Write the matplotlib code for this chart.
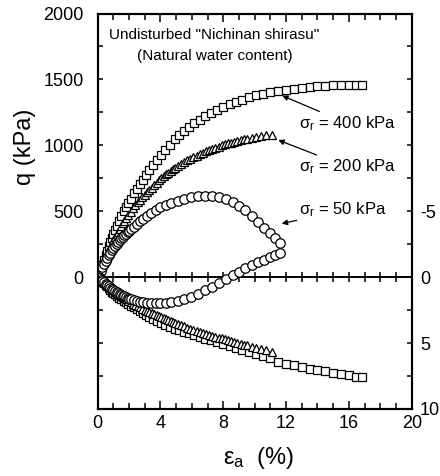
import matplotlib
matplotlib.use('Agg')
import matplotlib.pyplot as plt
from matplotlib.ticker import MultipleLocator, FixedLocator

plt.rcParams['axes.unicode_minus'] = False
REG = 'Liberation Sans'

# ---------------- data ----------------
# sigma_r = 400 kPa (squares)
strain_400 = [0, 0.05, 0.1, 0.15, 0.2, 0.3, 0.4, 0.5, 0.6, 0.7, 0.8, 0.9, 1.0, 1.1, 1.2,
              1.35, 1.5, 1.65, 1.8, 1.95, 2.1, 2.3, 2.5, 2.7, 2.9, 3.1, 3.3, 3.55, 3.8,
              4.05, 4.3, 4.6, 4.9, 5.2, 5.5, 5.8, 6.15, 6.5, 6.85, 7.2, 7.6, 8.0, 8.4,
              8.8, 9.2, 9.65, 10.1, 10.55, 11.0, 11.5, 12.0, 12.5, 13.0, 13.5, 14.0,
              14.5, 15.0, 15.5, 16.0, 16.45, 16.85]
q_400 = [0, 15, 30, 45, 60, 95, 130, 165, 200, 235, 265, 295, 325, 355, 385,
         425, 465, 500, 535, 565, 595, 635, 670, 705, 740, 775, 810, 850, 890,
         930, 965, 1005, 1045, 1080, 1110, 1140, 1170, 1195, 1220, 1243, 1265, 1288, 1310,
         1330, 1347, 1364, 1380, 1392, 1403, 1413, 1422, 1430, 1437, 1443, 1448,
         1452, 1455, 1457, 1458, 1458, 1457]
v_400 = [0, 0.05, 0.1, 0.15, 0.2, 0.35, 0.45, 0.6, 0.7, 0.85, 1.0, 1.1, 1.2, 1.3, 1.4,
         1.55, 1.65, 1.8, 1.9, 2.0, 2.15, 2.3, 2.45, 2.6, 2.75, 2.9, 3.05, 3.2, 3.35,
         3.5, 3.6, 3.75, 3.9, 4.0, 4.15, 4.25, 4.4, 4.55, 4.7, 4.8, 4.95, 5.1, 5.2,
         5.35, 5.5, 5.65, 5.85, 6.0, 6.15, 6.4, 6.55, 6.7, 6.85, 6.95, 7.05,
         7.15, 7.25, 7.35, 7.45, 7.55, 7.6]

# sigma_r = 200 kPa (triangles)
strain_200 = [0, 0.05, 0.1, 0.15, 0.2, 0.3, 0.4, 0.5, 0.6, 0.7, 0.8, 0.9, 1.0, 1.1, 1.2,
              1.3, 1.4, 1.5, 1.6, 1.7, 1.8, 1.95, 2.1, 2.25, 2.4, 2.55, 2.7, 2.85, 3.0,
              3.15, 3.3, 3.45, 3.6, 3.75, 3.9, 4.05, 4.2, 4.35, 4.5, 4.65, 4.8, 4.95,
              5.1, 5.3, 5.5, 5.7, 5.9, 6.1, 6.3, 6.5, 6.7, 6.9, 7.1, 7.3, 7.5, 7.7,
              7.9, 8.1, 8.3, 8.5, 8.7, 8.9, 9.1, 9.3, 9.5, 9.8, 10.1, 10.4, 10.75, 11.1]
q_200 = [0, 15, 30, 45, 60, 90, 120, 150, 180, 205, 230, 255, 280, 302, 325,
         346, 367, 388, 408, 427, 446, 473, 498, 522, 545, 567, 588, 608, 627,
         645, 663, 680, 697, 713, 735, 750, 765, 779, 792, 805, 818, 830,
         842, 857, 871, 885, 898, 910, 922, 933, 944, 954, 964, 973, 982, 991,
         999, 1007, 1014, 1021, 1028, 1034, 1040, 1046, 1051, 1058, 1064, 1070, 1075, 1080]
v_200 = [0, 0.05, 0.1, 0.15, 0.2, 0.3, 0.4, 0.5, 0.6, 0.7, 0.8, 0.9, 1.0, 1.1, 1.2,
         1.28, 1.36, 1.44, 1.52, 1.6, 1.68, 1.8, 1.9, 2.0, 2.1, 2.2, 2.3, 2.4, 2.5,
         2.58, 2.66, 2.74, 2.82, 2.9, 2.98, 3.06, 3.13, 3.2, 3.27, 3.34, 3.41, 3.48,
         3.55, 3.64, 3.73, 3.82, 3.9, 3.98, 4.06, 4.14, 4.22, 4.3, 4.37, 4.44, 4.51, 4.58,
         4.65, 4.72, 4.79, 4.86, 4.93, 5.0, 5.06, 5.12, 5.18, 5.27, 5.36, 5.45, 5.55, 5.65]

# sigma_r = 50 kPa (circles)
strain_50 = [0, 0.05, 0.1, 0.2, 0.3, 0.4, 0.5, 0.6, 0.7, 0.8, 0.9, 1.0, 1.1, 1.2, 1.3,
             1.4, 1.5, 1.6, 1.7, 1.8, 1.9, 2.0, 2.15, 2.3, 2.5, 2.7, 2.9, 3.15, 3.4,
             3.7, 4.0, 4.35, 4.7, 5.1, 5.5, 5.95, 6.4, 6.85, 7.3, 7.75, 8.2, 8.6, 9.0,
             9.4, 9.8, 10.2, 10.6, 10.95, 11.3, 11.6]
q_50 = [0, 12, 25, 50, 75, 100, 125, 145, 165, 185, 205, 222, 238, 254, 268,
        282, 295, 307, 319, 330, 341, 352, 368, 384, 405, 425, 443, 465, 488,
        510, 530, 548, 565, 580, 595, 607, 615, 618, 616, 608, 592, 570, 542,
        507, 467, 422, 375, 335, 298, 262]
v_50 = [0, 0.05, 0.1, 0.2, 0.3, 0.4, 0.5, 0.6, 0.7, 0.8, 0.88, 0.96, 1.04, 1.12, 1.2,
        1.27, 1.34, 1.4, 1.46, 1.52, 1.57, 1.62, 1.68, 1.74, 1.8, 1.85, 1.89, 1.93, 1.96,
        1.97, 1.97, 1.95, 1.9, 1.8, 1.68, 1.5, 1.25, 1.0, 0.75, 0.45, 0.12, -0.15, -0.42,
        -0.68, -0.92, -1.12, -1.32, -1.5, -1.66, -1.82]

x_ticks = [0, 4, 8, 12, 16, 20]
q_ticks = [0, 500, 1000, 1500, 2000]
v_ticks = [-5, 0, 5, 10]

# ---------------- figure ----------------
fig = plt.figure(figsize=(4.4, 4.76), dpi=100)
ax = fig.add_axes([0.222, 0.1408, 0.7137, 0.8308])
ax.set_xlim(0, 20)
ax.set_ylim(-1000, 2000)

mk = dict(ls='none', mfc='white', mec='black', mew=0.9)
ax.plot(strain_400, q_400, marker='s', ms=6.0, **mk)
ax.plot(strain_200, q_200, marker='^', ms=5.6, **mk)
ax.plot(strain_50, q_50, marker='o', ms=6.8, **mk)

ax2 = ax.twinx()
ax2.set_ylim(10, -20)
ax2.plot(strain_400, v_400, marker='s', ms=6.0, **mk)
ax2.plot(strain_200, v_200, marker='^', ms=5.6, **mk)
ax2.plot(strain_50, v_50, marker='o', ms=6.8, **mk)

for a in (ax, ax2):
    for s in a.spines.values():
        s.set_linewidth(1.5)

# x ticks
ax.xaxis.set_major_locator(FixedLocator(x_ticks))
ax.xaxis.set_minor_locator(MultipleLocator(1))
ax.tick_params(axis='x', which='both', direction='in', top=True, width=1.1)
ax.tick_params(axis='x', which='major', length=5.5, pad=4.5, labelsize=13)
ax.tick_params(axis='x', which='minor', length=4)
# left y ticks
ax.yaxis.set_major_locator(FixedLocator(q_ticks))
ax.yaxis.set_minor_locator(MultipleLocator(250))
ax.tick_params(axis='y', which='both', direction='in', right=False, width=1.1, length=3.5)
ax.tick_params(axis='y', which='major', pad=10, labelsize=13)
# right y ticks
ax2.yaxis.set_major_locator(FixedLocator(v_ticks))
ax2.yaxis.set_minor_locator(MultipleLocator(2.5))
ax2.tick_params(axis='y', which='both', direction='in', width=1.1, length=3.5)
ax2.tick_params(axis='y', which='major', pad=6, labelsize=13)
for lab in ax.get_xticklabels() + ax.get_yticklabels() + ax2.get_yticklabels():
    lab.set_family(REG)

# zero line with crossing ticks
sec = ax.secondary_xaxis(1/3)
sec.xaxis.set_major_locator(MultipleLocator(1))
sec.tick_params(axis='x', direction='inout', length=7, width=1.1,
                labelbottom=False, labeltop=False)
for s in sec.spines.values():
    s.set_linewidth(1.4)

# texts
ax.text(0.372, 0.946, 'Undisturbed "Nichinan shirasu"', transform=ax.transAxes,
        ha='center', va='center', fontsize=11, family=REG)
ax.text(0.372, 0.892, '(Natural water content)', transform=ax.transAxes,
        ha='center', va='center', fontsize=11, family=REG)

arrow = dict(arrowstyle='-|>', lw=0.9, color='black', mutation_scale=8,
             shrinkA=0, shrinkB=0)
ax.annotate(r'$\mathregular{σ_r}$ = 400 kPa', xy=(11.75, 1377), xytext=(12.85, 1165),
            ha='left', va='center', fontsize=12, family=REG, arrowprops=arrow)
ax.annotate(r'$\mathregular{σ_r}$ = 200 kPa', xy=(11.5, 1040), xytext=(12.85, 835),
            ha='left', va='center', fontsize=12, family=REG, arrowprops=arrow)
ax.annotate(r'$\mathregular{σ_r}$ = 50 kPa', xy=(11.72, 406), xytext=(12.85, 509),
            ha='left', va='center', fontsize=12, family=REG, arrowprops=arrow)

fig.text(25 / 440, 1 - 147 / 476, 'q (kPa)', rotation=90, ha='center', va='center',
         fontsize=17, family=REG)
fig.text(259 / 440, 1 - 458 / 476, r'$\mathregular{ε_a}$  (%)', ha='center', va='center',
         fontsize=17, family=REG)

fig.savefig('out.png', dpi=100)
